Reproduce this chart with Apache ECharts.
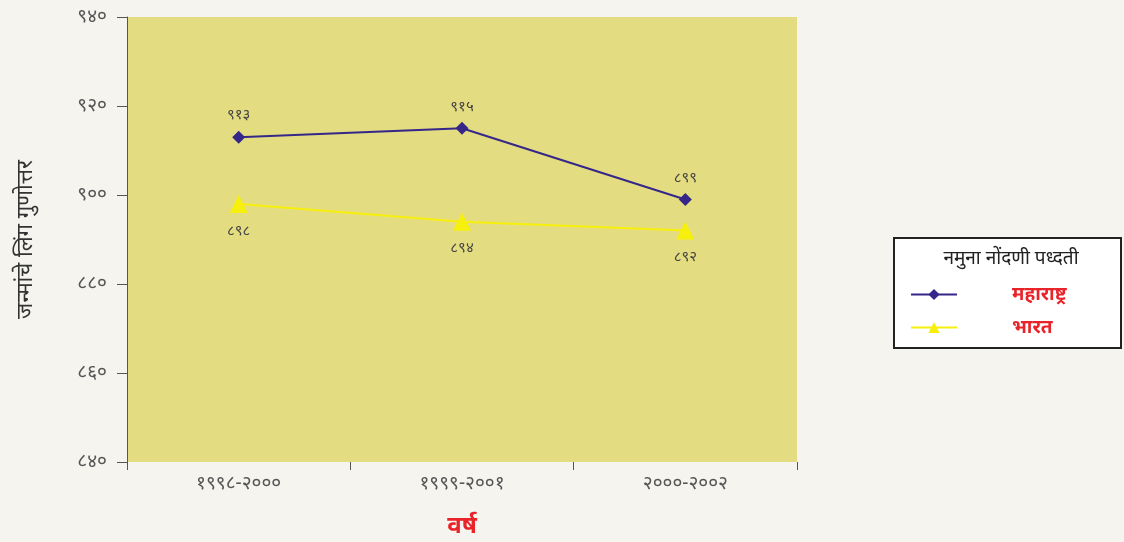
<!DOCTYPE html>
<html><head><meta charset="utf-8">
<script src="https://cdn.jsdelivr.net/npm/echarts@6/dist/echarts.min.js"></script>
<style>html,body{margin:0;padding:0;background:#f5f4ef;}#c{width:1124px;height:542px;}</style>
</head><body><div id="c"></div>
<script>
const categories = ['१९९८-२०००', '१९९९-२००१', '२०००-२००२'];
const maharashtra = [913, 915, 899];
const bharat = [898, 894, 892];
const seriesNames = ['महाराष्ट्र', 'भारत'];
const yMin = 840, yMax = 940, yStep = 20;
const devDigits = ['०','१','२','३','४','५','६','७','८','९'];
const toDev = v => String(v).replace(/[0-9]/g, d => devDigits[+d]);
const FONT = 'Noto Sans, DejaVu Sans, sans-serif';

const chart = echarts.init(document.getElementById('c'));
chart.setOption({
  backgroundColor: '#f5f4ef',
  animation: false,
  grid: { left: 127, right: 327, top: 17, bottom: 80, show: true, backgroundColor: '#e4dc80', borderWidth: 0, containLabel: false, outerBoundsMode: 'none' },
  title: { text: 'नमुना नोंदणी पध्दती', left: 1006, textAlign: 'center', top: 244, textStyle: { fontSize: 19, fontWeight: 'normal', color: '#222', fontFamily: FONT } },
  legend: {
    data: seriesNames, orient: 'vertical', left: 905, top: 280, itemGap: 14, itemWidth: 46, itemHeight: 14,
    textStyle: { color: '#e8242a', fontSize: 19, fontWeight: 'bold', padding: [0, 0, 0, 50], fontFamily: FONT }
  },
  graphic: [{ type: 'rect', left: 893, top: 237, shape: { width: 227, height: 110 }, style: { fill: '#fff', stroke: '#222', lineWidth: 2 }, z: -1 }],
  xAxis: {
    type: 'category', data: categories, boundaryGap: true,
    name: 'वर्ष', nameLocation: 'middle', nameGap: 52,
    nameTextStyle: { color: '#e8242a', fontSize: 24, fontWeight: 'bold', fontFamily: FONT },
    axisLine: { show: false },
    axisTick: { show: true, length: 8, lineStyle: { color: '#555' } },
    axisLabel: { color: '#555', fontSize: 19, margin: 12, fontFamily: FONT },
    splitLine: { show: false }
  },
  yAxis: {
    type: 'value', min: yMin, max: yMax, interval: yStep,
    name: 'जन्मांचे लिंग गुणोत्तर', nameLocation: 'middle', nameGap: 90, nameRotate: 90,
    nameTextStyle: { color: '#333', fontSize: 22, fontFamily: FONT },
    axisLine: { show: true, lineStyle: { color: '#555' } },
    axisTick: { show: true, length: 10, lineStyle: { color: '#555' } },
    axisLabel: { color: '#555', fontSize: 19, margin: 20, formatter: v => toDev(v), fontFamily: FONT },
    splitLine: { show: false }
  },
  series: [
    { name: seriesNames[0], type: 'line', data: maharashtra, symbol: 'diamond', symbolSize: 13,
      lineStyle: { color: '#35278a', width: 2 }, itemStyle: { color: '#35278a' },
      label: { show: true, position: 'top', distance: 8, color: '#444', fontSize: 15, formatter: p => toDev(p.value), fontFamily: FONT } },
    { name: seriesNames[1], type: 'line', data: bharat, symbol: 'triangle', symbolSize: 18,
      lineStyle: { color: '#f6f00c', width: 2 }, itemStyle: { color: '#f6f00c' },
      label: { show: true, position: 'bottom', distance: 10, color: '#444', fontSize: 15, formatter: p => toDev(p.value), fontFamily: FONT } }
  ]
});
</script></body></html>
